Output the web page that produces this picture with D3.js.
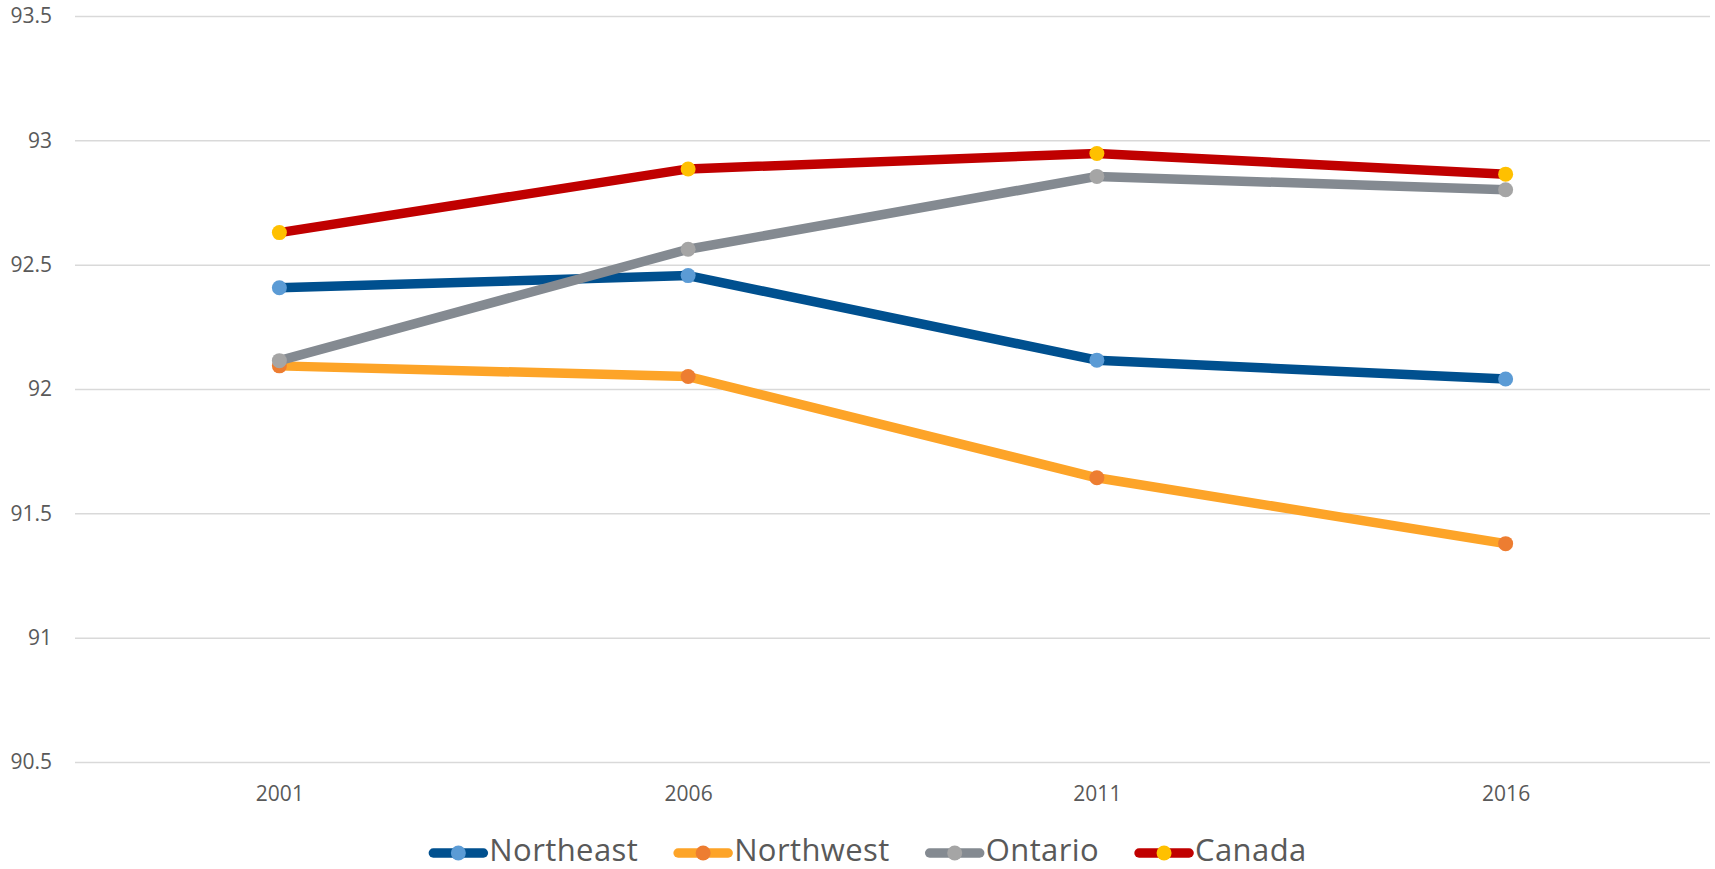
<!DOCTYPE html>
<html>
<head>
<meta charset="utf-8">
<script src="https://cdn.jsdelivr.net/npm/d3@7"></script>
<style>
  body { margin: 0; background: #fff; }
  svg { display: block; font-family: "Open Sans", sans-serif; }
</style>
</head>
<body>
<div id="chart"></div>
<script>
// data
var years = ["2001", "2006", "2011", "2016"];
var yTicks = [90.5, 91, 91.5, 92, 92.5, 93, 93.5];
var seriesNames = ["Northeast", "Northwest", "Ontario", "Canada"];
var northeast = [92.407, 92.456, 92.116, 92.040];
var northwest = [92.093, 92.050, 91.643, 91.378];
var ontario = [92.114, 92.562, 92.855, 92.801];
var canada = [92.629, 92.885, 92.947, 92.864];

var lineColors = ["#00508f", "#fda428", "#848a91", "#c00000"];
var dotColors = ["#5b9bd5", "#ed7d31", "#a5a5a5", "#ffc000"];

var allSeries = [northeast, northwest, ontario, canada].map(function(vals, i) {
  return { name: seriesNames[i], values: vals, line: lineColors[i], dot: dotColors[i] };
});

var chartW = 1715, chartH = 869;
var plotLeft = 75, plotRight = 1710, plotTop = 16, plotBottom = 762;

var svg = d3.select("#chart").append("svg")
  .attr("width", chartW)
  .attr("height", chartH);

var x = d3.scalePoint().domain(years).range([plotLeft, plotRight]).padding(0.5);
var y = d3.scaleLinear().domain([90.5, 93.5]).range([plotBottom, plotTop]);

// y axis + gridlines
var yAxis = svg.append("g")
  .attr("transform", "translate(" + plotLeft + ",0)")
  .call(d3.axisLeft(y).tickValues(yTicks).tickSizeInner(-(plotRight - plotLeft)).tickSizeOuter(0).tickPadding(23)
    .tickFormat(function(d) { return String(d); }));
yAxis.select(".domain").remove();
yAxis.selectAll(".tick line").attr("stroke", "#d9d9d9").attr("stroke-width", 1.5);
yAxis.selectAll(".tick text").attr("fill", "#595959").style("font-size", "21px").style("font-family", "Open Sans");

// x axis labels
var xAxis = svg.append("g")
  .attr("transform", "translate(0," + plotBottom + ")")
  .call(d3.axisBottom(x).tickSize(0).tickPadding(24));
xAxis.select(".domain").remove();
xAxis.selectAll(".tick text").attr("fill", "#595959").style("font-size", "21px").style("font-family", "Open Sans");

var line = d3.line()
  .x(function(d, i) { return x(years[i]); })
  .y(function(d) { return y(d); });

allSeries.forEach(function(s) {
  var g = svg.append("g");
  g.append("path")
    .attr("d", line(s.values))
    .attr("fill", "none")
    .attr("stroke", s.line)
    .attr("stroke-width", 9.5)
    .attr("stroke-linejoin", "round");
  g.selectAll("circle")
    .data(s.values)
    .enter()
    .append("circle")
    .attr("cx", function(d, i) { return x(years[i]); })
    .attr("cy", function(d) { return y(d); })
    .attr("r", 7.5)
    .attr("fill", s.dot);
});

// legend
var legendY = 853;
var legend = svg.append("g");
var xPos = 0;
allSeries.forEach(function(s, i) {
  var item = legend.append("g").attr("transform", "translate(" + xPos + ",0)");
  item.append("line")
    .attr("x1", 4).attr("x2", 54)
    .attr("y1", legendY).attr("y2", legendY)
    .attr("stroke", s.line)
    .attr("stroke-width", 9.5)
    .attr("stroke-linecap", "round");
  item.append("circle")
    .attr("cx", 29).attr("cy", legendY)
    .attr("r", 7.5)
    .attr("fill", s.dot);
  var t = item.append("text")
    .attr("x", 60)
    .attr("y", 861)
    .attr("fill", "#595959")
    .style("font-size", "31px")
    .style("letter-spacing", "0.4px")
    .text(s.name);
  xPos += 60 + t.node().getComputedTextLength() + 36;
});
var legendW = xPos - 36;
legend.attr("transform", "translate(" + (868 - legendW / 2) + ",0)");
</script>
</body>
</html>
